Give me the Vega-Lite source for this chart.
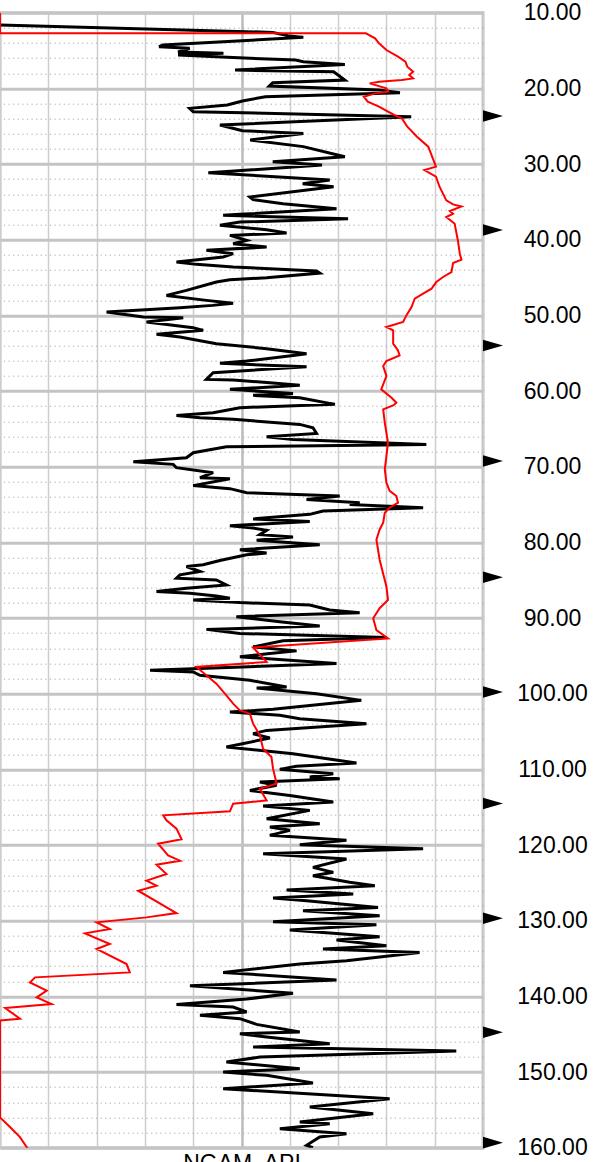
{
 "$schema": "https://vega.github.io/schema/vega-lite/v6.json",
 "width": 483,
 "height": 1135,
 "autosize": {"type": "none"},
 "padding": {"left": 0, "top": 12.7, "right": 112, "bottom": 14.3},
 "background": "white",
 "config": {"view": {"stroke": "#c4c4c4", "strokeWidth": 3}, "font": "Liberation Sans"},
 "datasets": {
  "ngam": [
   {"depth": 11.63, "api": 0}, {"depth": 12.6, "api": 84.7}, {"depth": 13.04, "api": 89.4}, {"depth": 13.26, "api": 94.2},
   {"depth": 14.27, "api": 50.6}, {"depth": 14.49, "api": 49.4}, {"depth": 14.71, "api": 58.9}, {"depth": 15.2, "api": 55.3},
   {"depth": 15.37, "api": 69.4}, {"depth": 15.6, "api": 55.3}, {"depth": 15.9, "api": 70.6}, {"depth": 16.26, "api": 91.8},
   {"depth": 16.48, "api": 94.2}, {"depth": 16.83, "api": 107.1}, {"depth": 17.58, "api": 73}, {"depth": 17.8, "api": 103.6},
   {"depth": 18.9, "api": 107.1}, {"depth": 19.25, "api": 84.7}, {"depth": 19.7, "api": 83.6}, {"depth": 20.2, "api": 117.7},
   {"depth": 20.57, "api": 124.2}, {"depth": 21.1, "api": 82.4}, {"depth": 21.67, "api": 75.3}, {"depth": 22.2, "api": 70.6},
   {"depth": 22.64, "api": 58.9}, {"depth": 23.08, "api": 60}, {"depth": 23.74, "api": 127.7}, {"depth": 24.85, "api": 68.3},
   {"depth": 25.6, "api": 75.3}, {"depth": 25.95, "api": 94.2}, {"depth": 26.83, "api": 77.7}, {"depth": 27.7, "api": 94.2},
   {"depth": 29.03, "api": 107.1}, {"depth": 29.7, "api": 84.7}, {"depth": 30.13, "api": 100}, {"depth": 31.15, "api": 64.7},
   {"depth": 32.1, "api": 102.4}, {"depth": 32.6, "api": 94}, {"depth": 33.0, "api": 103.6}, {"depth": 34.36, "api": 77.6},
   {"depth": 34.71, "api": 78.6}, {"depth": 35.24, "api": 87.9}, {"depth": 35.9, "api": 104.5}, {"depth": 36.65, "api": 74.5},
   {"depth": 36.78, "api": 69.3}, {"depth": 37.22, "api": 108.1}, {"depth": 37.67, "api": 74.5}, {"depth": 38.1, "api": 68.3},
   {"depth": 38.68, "api": 82.8}, {"depth": 39.12, "api": 89}, {"depth": 39.43, "api": 71.4}, {"depth": 40.09, "api": 76.6},
   {"depth": 40.53, "api": 72.4}, {"depth": 40.97, "api": 82.8}, {"depth": 41.41, "api": 64.1}, {"depth": 41.85, "api": 72.4},
   {"depth": 42.29, "api": 69.3}, {"depth": 42.95, "api": 54.8}, {"depth": 43.26, "api": 61}, {"depth": 43.61, "api": 72.4},
   {"depth": 44.14, "api": 98.3}, {"depth": 44.41, "api": 99.3}, {"depth": 45.02, "api": 82.8}, {"depth": 45.29, "api": 71.4},
   {"depth": 45.59, "api": 67.2}, {"depth": 46.7, "api": 57.9}, {"depth": 47.36, "api": 51.7}, {"depth": 48.02, "api": 64.1},
   {"depth": 48.4, "api": 72.4}, {"depth": 48.68, "api": 66}, {"depth": 48.99, "api": 55.9}, {"depth": 49.56, "api": 33.1},
   {"depth": 50.22, "api": 44.5}, {"depth": 50.31, "api": 56.9}, {"depth": 50.88, "api": 45.5}, {"depth": 51.63, "api": 60},
   {"depth": 51.98, "api": 63.1}, {"depth": 52.5, "api": 48.6}, {"depth": 52.86, "api": 55.9}, {"depth": 53.74, "api": 67.2},
   {"depth": 54.4, "api": 82.8}, {"depth": 55.07, "api": 95.2}, {"depth": 55.29, "api": 91}, {"depth": 56.04, "api": 76.6},
   {"depth": 56.34, "api": 68.3}, {"depth": 56.78, "api": 95.2}, {"depth": 57.58, "api": 66.2}, {"depth": 58.46, "api": 64.1},
   {"depth": 58.55, "api": 72.4}, {"depth": 58.9, "api": 83.8}, {"depth": 59.25, "api": 93.1}, {"depth": 59.78, "api": 71.4},
   {"depth": 60.31, "api": 91}, {"depth": 60.57, "api": 78.6}, {"depth": 60.88, "api": 93.1}, {"depth": 61.76, "api": 104},
   {"depth": 62.2, "api": 74.5}, {"depth": 62.86, "api": 66.2}, {"depth": 63.22, "api": 54.8}, {"depth": 63.52, "api": 62.1},
   {"depth": 63.74, "api": 72.4}, {"depth": 64.41, "api": 93.1}, {"depth": 64.85, "api": 97.2}, {"depth": 65.6, "api": 98.3},
   {"depth": 66.04, "api": 82.8}, {"depth": 66.39, "api": 91}, {"depth": 66.61, "api": 103.5}, {"depth": 67.05, "api": 132.4},
   {"depth": 67.36, "api": 70.3}, {"depth": 68.15, "api": 60}, {"depth": 68.81, "api": 57.9}, {"depth": 69.34, "api": 41.4},
   {"depth": 69.69, "api": 53.8}, {"depth": 70.13, "api": 54.8}, {"depth": 70.79, "api": 66.2}, {"depth": 71.45, "api": 62.1},
   {"depth": 71.59, "api": 71.4}, {"depth": 72.5, "api": 60}, {"depth": 72.9, "api": 71.4}, {"depth": 73.44, "api": 76.6},
   {"depth": 73.88, "api": 105.5}, {"depth": 74.32, "api": 95.2}, {"depth": 74.76, "api": 111.7}, {"depth": 74.98, "api": 108.6},
   {"depth": 75.42, "api": 131.4}, {"depth": 75.86, "api": 100.3}, {"depth": 76.3, "api": 96.2}, {"depth": 76.9, "api": 78.6},
   {"depth": 77.25, "api": 96.2}, {"depth": 77.79, "api": 71.4}, {"depth": 78.1, "api": 78.6}, {"depth": 78.41, "api": 82.8},
   {"depth": 78.98, "api": 80.7}, {"depth": 79.29, "api": 91}, {"depth": 79.73, "api": 79.7}, {"depth": 80.31, "api": 99.3},
   {"depth": 80.97, "api": 74.5}, {"depth": 81.42, "api": 82.8}, {"depth": 81.64, "api": 76.6}, {"depth": 82.39, "api": 68.3},
   {"depth": 82.96, "api": 63.1}, {"depth": 83.19, "api": 57.9}, {"depth": 83.85, "api": 62.1}, {"depth": 84.29, "api": 55.9},
   {"depth": 84.73, "api": 54.8}, {"depth": 84.96, "api": 67.2}, {"depth": 85.62, "api": 70.3}, {"depth": 86.06, "api": 57.9},
   {"depth": 86.5, "api": 48.6}, {"depth": 86.73, "api": 59}, {"depth": 87.08, "api": 67.2}, {"depth": 87.39, "api": 71.4},
   {"depth": 87.61, "api": 60}, {"depth": 87.96, "api": 74.5}, {"depth": 88.27, "api": 96.2}, {"depth": 88.94, "api": 102.4},
   {"depth": 89.29, "api": 111.7}, {"depth": 89.82, "api": 73.4}, {"depth": 90.49, "api": 86.9}, {"depth": 91.06, "api": 99.3},
   {"depth": 91.5, "api": 64.1}, {"depth": 92.04, "api": 74.5}, {"depth": 92.57, "api": 120}, {"depth": 93.01, "api": 87.9},
   {"depth": 93.81, "api": 78.6}, {"depth": 94.34, "api": 92.1}, {"depth": 94.69, "api": 83.8}, {"depth": 95.13, "api": 74.5},
   {"depth": 96.02, "api": 104.5}, {"depth": 96.9, "api": 46.6}, {"depth": 97.12, "api": 60}, {"depth": 97.57, "api": 62.1},
   {"depth": 98.23, "api": 77.6}, {"depth": 99.12, "api": 89}, {"depth": 99.25, "api": 79.7}, {"depth": 100, "api": 98.3},
   {"depth": 100.88, "api": 112.2}, {"depth": 102.07, "api": 84.8}, {"depth": 102.42, "api": 71.4}, {"depth": 102.86, "api": 86.9},
   {"depth": 103.3, "api": 93.1}, {"depth": 103.96, "api": 113.8}, {"depth": 104.85, "api": 82.8}, {"depth": 105.29, "api": 78.6},
   {"depth": 105.86, "api": 83.8}, {"depth": 107.05, "api": 70.3}, {"depth": 107.93, "api": 91}, {"depth": 109.16, "api": 110.7},
   {"depth": 109.6, "api": 92}, {"depth": 110, "api": 86.9}, {"depth": 110.57, "api": 103.5}, {"depth": 111.01, "api": 96.2},
   {"depth": 111.23, "api": 105.5}, {"depth": 111.67, "api": 80.7}, {"depth": 112.11, "api": 85.9}, {"depth": 112.78, "api": 77.6},
   {"depth": 113.44, "api": 90}, {"depth": 114.32, "api": 103.5}, {"depth": 114.85, "api": 81.7}, {"depth": 115.42, "api": 96.2},
   {"depth": 116.52, "api": 82.8}, {"depth": 117.18, "api": 99.3}, {"depth": 117.62, "api": 83.8}, {"depth": 118.06, "api": 90},
   {"depth": 118.72, "api": 83.8}, {"depth": 119.38, "api": 107.6}, {"depth": 119.96, "api": 93.1}, {"depth": 120.48, "api": 131.4},
   {"depth": 121.15, "api": 81.7}, {"depth": 121.85, "api": 107.6}, {"depth": 122.95, "api": 97.2}, {"depth": 123.61, "api": 103.5},
   {"depth": 124.05, "api": 97.2}, {"depth": 124.93, "api": 108.6}, {"depth": 125.37, "api": 116.4}, {"depth": 125.95, "api": 89},
   {"depth": 126.48, "api": 109.7}, {"depth": 127, "api": 84.8}, {"depth": 127.36, "api": 95.2}, {"depth": 128.24, "api": 117.4},
   {"depth": 128.68, "api": 94.1}, {"depth": 129.34, "api": 117.9}, {"depth": 130.13, "api": 84.8}, {"depth": 130.53, "api": 116.9},
   {"depth": 131.23, "api": 90}, {"depth": 132.11, "api": 117.9}, {"depth": 132.56, "api": 104.5}, {"depth": 133.3, "api": 120},
   {"depth": 133.74, "api": 100.3}, {"depth": 134.19, "api": 130.3}, {"depth": 135.29, "api": 107.6}, {"depth": 135.73, "api": 93.1},
   {"depth": 136.83, "api": 69.3}, {"depth": 137.84, "api": 104.5}, {"depth": 138.59, "api": 59}, {"depth": 139.6, "api": 91},
   {"depth": 140.35, "api": 76.6}, {"depth": 141.06, "api": 54.8}, {"depth": 141.41, "api": 72.4}, {"depth": 142.07, "api": 76.6},
   {"depth": 142.51, "api": 62.1}, {"depth": 142.95, "api": 74.5}, {"depth": 143.7, "api": 79.7}, {"depth": 144.71, "api": 93.1},
   {"depth": 144.93, "api": 74.5}, {"depth": 145.37, "api": 82.8}, {"depth": 146.26, "api": 102.4}, {"depth": 146.7, "api": 78.6},
   {"depth": 147.22, "api": 141.7}, {"depth": 148.02, "api": 80.7}, {"depth": 148.68, "api": 70.3}, {"depth": 149.56, "api": 93.1},
   {"depth": 150, "api": 69.3}, {"depth": 150.44, "api": 82.8}, {"depth": 151.45, "api": 97.2}, {"depth": 152.2, "api": 69.3},
   {"depth": 153.52, "api": 121}, {"depth": 154.63, "api": 96.2}, {"depth": 155.51, "api": 115.9}, {"depth": 156.61, "api": 93.1},
   {"depth": 156.83, "api": 102.4}, {"depth": 157.49, "api": 86.9}, {"depth": 158.15, "api": 107.6}, {"depth": 158.59, "api": 99.3},
   {"depth": 159.69, "api": 95.2}, {"depth": 160, "api": 97.2}
  ],
  "red": [
   {"depth": 10, "api": 0}, {"depth": 12.73, "api": 0}, {"depth": 12.73, "api": 113.6}, {"depth": 13.39, "api": 116.5},
   {"depth": 14.05, "api": 117.7}, {"depth": 14.93, "api": 120}, {"depth": 15.81, "api": 123.6}, {"depth": 16.48, "api": 125.9},
   {"depth": 17.14, "api": 126.5}, {"depth": 17.8, "api": 128.3}, {"depth": 18.24, "api": 127.1}, {"depth": 18.68, "api": 128.3},
   {"depth": 18.9, "api": 124.8}, {"depth": 19.12, "api": 117.7}, {"depth": 19.34, "api": 114.8}, {"depth": 20, "api": 120},
   {"depth": 20.44, "api": 120.6}, {"depth": 20.66, "api": 116.5}, {"depth": 21.1, "api": 113}, {"depth": 21.76, "api": 114.2},
   {"depth": 22.42, "api": 117.7}, {"depth": 23.52, "api": 122.4}, {"depth": 23.96, "api": 124.8}, {"depth": 25.07, "api": 126.5},
   {"depth": 26.39, "api": 129.5}, {"depth": 27.7, "api": 133}, {"depth": 29.03, "api": 134.2}, {"depth": 30.35, "api": 135.4},
   {"depth": 30.79, "api": 131.8}, {"depth": 31.67, "api": 135.4}, {"depth": 33, "api": 136.5}, {"depth": 34.54, "api": 138.3},
   {"depth": 34.8, "api": 138.6}, {"depth": 35.33, "api": 140.7}, {"depth": 35.6, "api": 143.3}, {"depth": 36.2, "api": 139.7},
   {"depth": 36.56, "api": 140.7}, {"depth": 37, "api": 138.6}, {"depth": 37.9, "api": 141.2}, {"depth": 40.1, "api": 142.2},
   {"depth": 41.85, "api": 142.8}, {"depth": 42.64, "api": 143.3}, {"depth": 43.08, "api": 140.7}, {"depth": 44.27, "api": 140.2},
   {"depth": 44.93, "api": 137.6}, {"depth": 45.6, "api": 135.5}, {"depth": 46.48, "api": 134}, {"depth": 47.14, "api": 131.4},
   {"depth": 47.8, "api": 128.8}, {"depth": 48.9, "api": 127.8}, {"depth": 50, "api": 126.2}, {"depth": 50.88, "api": 125.2},
   {"depth": 51.54, "api": 120}, {"depth": 51.98, "api": 122.1}, {"depth": 53.74, "api": 122.1}, {"depth": 54.63, "api": 123.6},
   {"depth": 55.29, "api": 124.1}, {"depth": 56.04, "api": 120}, {"depth": 56.7, "api": 119}, {"depth": 58.02, "api": 120},
   {"depth": 59.78, "api": 118.4}, {"depth": 60.88, "api": 121.6}, {"depth": 61.54, "api": 123.1}, {"depth": 61.9, "api": 122.1},
   {"depth": 62.42, "api": 119}, {"depth": 64.19, "api": 119.5}, {"depth": 66.83, "api": 120.5}, {"depth": 68.59, "api": 120},
   {"depth": 70.35, "api": 119.5}, {"depth": 72.11, "api": 120}, {"depth": 73.2, "api": 121}, {"depth": 73.88, "api": 123.1},
   {"depth": 74.76, "api": 123.6}, {"depth": 75.42, "api": 121}, {"depth": 76.08, "api": 119.5}, {"depth": 77.4, "api": 119},
   {"depth": 78.3, "api": 117.9}, {"depth": 79.65, "api": 116.9}, {"depth": 82.3, "api": 117.9}, {"depth": 85.84, "api": 120},
   {"depth": 87.6, "api": 120.5}, {"depth": 88.7, "api": 117.9}, {"depth": 90.04, "api": 115.9}, {"depth": 91.6, "api": 116.9},
   {"depth": 92.7, "api": 120.5}, {"depth": 93.9, "api": 78.6}, {"depth": 95.8, "api": 82.8}, {"depth": 96.46, "api": 61},
   {"depth": 98.67, "api": 67.2}, {"depth": 100.22, "api": 70.3}, {"depth": 101.32, "api": 72.4}, {"depth": 102.2, "api": 74.5},
   {"depth": 102.64, "api": 77.6}, {"depth": 103.96, "api": 78.6}, {"depth": 105.5, "api": 80.7}, {"depth": 107.27, "api": 81.7},
   {"depth": 108.37, "api": 84.3}, {"depth": 109.91, "api": 84.8}, {"depth": 111.89, "api": 85.9}, {"depth": 112.56, "api": 80.7},
   {"depth": 114.1, "api": 82.8}, {"depth": 114.54, "api": 72.4}, {"depth": 115.55, "api": 71.4}, {"depth": 116.08, "api": 50.7},
   {"depth": 116.74, "api": 51.7}, {"depth": 117.84, "api": 54.8}, {"depth": 119.25, "api": 56.4}, {"depth": 119.82, "api": 49.1},
   {"depth": 121.37, "api": 52.2}, {"depth": 122.07, "api": 55.9}, {"depth": 122.6, "api": 48.6}, {"depth": 123.83, "api": 51.7},
   {"depth": 124.71, "api": 45.5}, {"depth": 125.37, "api": 48.6}, {"depth": 126.04, "api": 42.9}, {"depth": 128.99, "api": 54.8},
   {"depth": 129.56, "api": 45.5}, {"depth": 130.22, "api": 30}, {"depth": 131.1, "api": 34.1}, {"depth": 131.67, "api": 26.4},
   {"depth": 133.08, "api": 34.1}, {"depth": 133.74, "api": 30}, {"depth": 135.73, "api": 39.3}, {"depth": 136.83, "api": 40.3},
   {"depth": 137.49, "api": 10.9}, {"depth": 138.15, "api": 9.3}, {"depth": 139.25, "api": 14.5}, {"depth": 140.13, "api": 11.4},
   {"depth": 141.01, "api": 16}, {"depth": 141.54, "api": 1.6}, {"depth": 142.95, "api": 6.2}, {"depth": 143.2, "api": 0},
   {"depth": 156, "api": 0}, {"depth": 157.27, "api": 3.1}, {"depth": 158.6, "api": 6.2}, {"depth": 160.5, "api": 9.2}
  ],
  "markers": [
   {"depth": 23.65}, {"depth": 38.72}, {"depth": 53.98}, {"depth": 69.24}, {"depth": 84.61},
   {"depth": 99.77}, {"depth": 114.5}, {"depth": 129.68}, {"depth": 144.74}, {"depth": 159.33}
  ]
 },
 "encoding": {
  "y": {
   "field": "depth", "type": "quantitative",
   "scale": {"domain": [10, 160], "reverse": true, "nice": false, "zero": false},
   "axis": {
    "orient": "right",
    "values": [10,12,14,16,18,20,22,24,26,28,30,32,34,36,38,40,42,44,46,48,50,52,54,56,58,60,62,64,66,68,70,72,74,76,78,80,82,84,86,88,90,92,94,96,98,100,102,104,106,108,110,112,114,116,118,120,122,124,126,128,130,132,134,136,138,140,142,144,146,148,150,152,154,156,158,160],
    "grid": true,
    "gridColor": {"condition": {"test": "datum.value % 10 === 0", "value": "#c4c4c4"}, "value": "#a9a9a9"},
    "gridWidth": {"condition": {"test": "datum.value % 10 === 0", "value": 3}, "value": 1},
    "gridDash": {"condition": {"test": "datum.value % 10 === 0", "value": []}, "value": [1.2, 3.4]},
    "labelExpr": "datum.value % 10 === 0 ? format(datum.value, '.2f') : ''",
    "ticks": false, "tickSize": 0, "domain": false,
    "labelPadding": 69, "labelAlign": "center", "labelBaseline": "middle",
    "labelFont": "Liberation Sans", "labelFontSize": 23, "labelColor": "#000000",
    "labelOverlap": false, "labelFlush": false, "labelBound": false,
    "title": null
   }
  }
 },
 "layer": [
  {
   "data": {"name": "ngam"},
   "mark": {"type": "line", "stroke": "#000000", "strokeWidth": 3, "clip": true},
   "encoding": {
    "x": {
     "field": "api", "type": "quantitative",
     "scale": {"domain": [0, 150], "nice": false, "zero": false},
     "axis": {
      "orient": "bottom",
      "values": [0, 15, 30, 45, 60, 75, 90, 105, 120, 135, 150],
      "grid": true,
      "gridColor": {"condition": {"test": "datum.value === 75", "value": "#bdbdbd"}, "value": "#cdcdcd"},
      "gridWidth": {"condition": {"test": "datum.value === 75", "value": 2.6}, "value": 1.5},
      "labels": false, "ticks": false, "tickSize": 0, "domain": false,
      "title": "NGAM, API", "titleFont": "Liberation Sans", "titleFontSize": 23,
      "titleFontWeight": "normal", "titleColor": "#000000", "titlePadding": 5
     }
    },
    "order": {"value": null}
   }
  },
  {
   "data": {"name": "red"},
   "mark": {"type": "line", "stroke": "#ff0000", "strokeWidth": 2, "clip": true},
   "encoding": {
    "x": {"field": "api", "type": "quantitative", "title": "NGAM, API"},
    "order": {"value": null}
   }
  },
  {
   "data": {"name": "markers"},
   "mark": {"type": "point", "shape": "M0,-0.577L2,0L0,0.577Z", "size": 400, "filled": true, "color": "#000000", "opacity": 1, "strokeWidth": 0},
   "encoding": {
    "x": {"datum": 150, "type": "quantitative", "title": "NGAM, API"}
   }
  }
 ]
}
